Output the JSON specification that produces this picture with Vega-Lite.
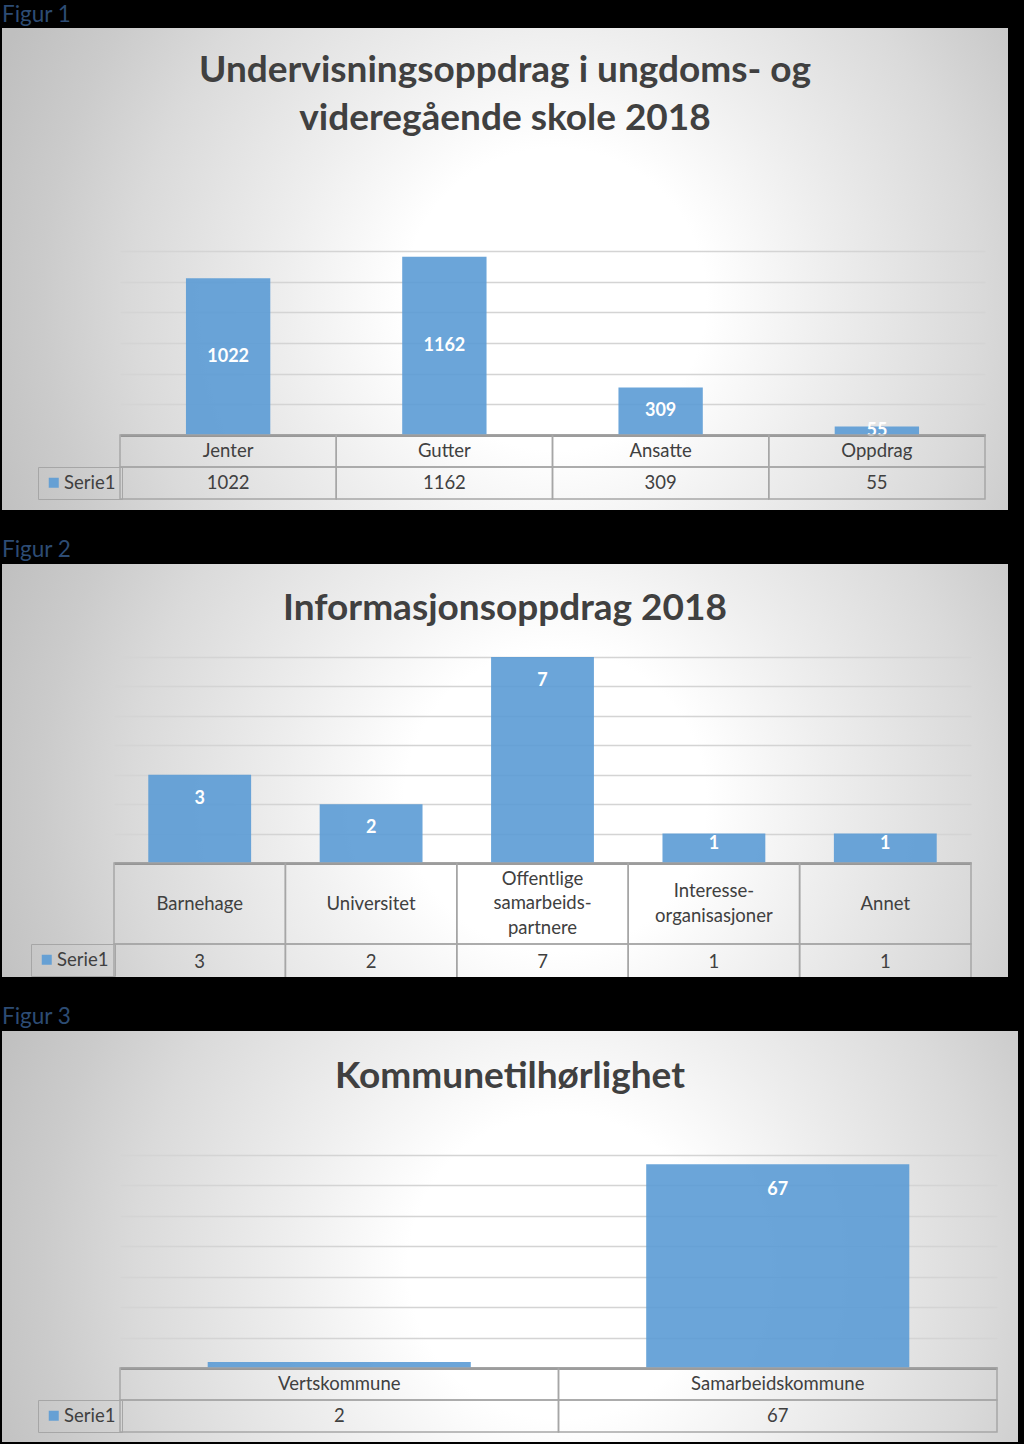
{
  "$schema": "https://vega.github.io/schema/vega-lite/v6.json",
  "background": "#000000",
  "padding": {"left": 2, "right": 6, "top": 3, "bottom": 2},
  "spacing": 28,
  "config": {"font": "Lato", "view": {"stroke": null}},
  "resolve": {"scale": {"color": "independent"}, "legend": {"color": "independent"}},
  "datasets": {
    "fig1": [
      {"kategori": "Jenter", "verdi": 1022, "serie": "Serie1"},
      {"kategori": "Gutter", "verdi": 1162, "serie": "Serie1"},
      {"kategori": "Ansatte", "verdi": 309, "serie": "Serie1"},
      {"kategori": "Oppdrag", "verdi": 55, "serie": "Serie1"}
    ],
    "fig2": [
      {"kategori": "Barnehage", "verdi": 3, "serie": "Serie1"},
      {"kategori": "Universitet", "verdi": 2, "serie": "Serie1"},
      {"kategori": "Offentlige samarbeids-partnere", "verdi": 7, "serie": "Serie1"},
      {"kategori": "Interesse-organisasjoner", "verdi": 1, "serie": "Serie1"},
      {"kategori": "Annet", "verdi": 1, "serie": "Serie1"}
    ],
    "fig3": [
      {"kategori": "Vertskommune", "verdi": 2, "serie": "Serie1"},
      {"kategori": "Samarbeidskommune", "verdi": 67, "serie": "Serie1"}
    ]
  },
  "vconcat": [
    {
      "title": {"text": "Figur 1", "anchor": "start", "frame": "group", "font": "Lato", "fontSize": 22.5, "fontWeight": "normal", "color": "#2d4c74", "offset": 2},
      "vconcat": [
        {
          "width": 1006,
          "height": 482,
          "data": {"name": "fig1"},
          "view": {"stroke": null, "fill": {"gradient": "radial", "x1": 0.55, "y1": 0.53, "r1": 0, "x2": 0.55, "y2": 0.53, "r2": 0.6, "stops": [{"offset": 0, "color": "#ffffff"}, {"offset": 0.25, "color": "#ffffff"}, {"offset": 0.45, "color": "#eeeeee"}, {"offset": 0.7, "color": "#dadada"}, {"offset": 0.85, "color": "#cbcbcb"}, {"offset": 1, "color": "#bfbfbf"}]}},
          "title": {"text": ["Undervisningsoppdrag i ungdoms- og", "videregående skole 2018"], "font": "Lato", "fontSize": 37, "fontWeight": "bold", "color": "#404040", "lineHeight": 48, "offset": -110, "anchor": "middle", "frame": "group"},
          "encoding": {
            "x": {"field": "kategori", "type": "nominal", "sort": null, "scale": {"range": [118, 983], "paddingInner": 0, "paddingOuter": 0}, "axis": {"orient": "bottom", "offset": -75, "labels": false, "ticks": false, "title": null, "domainColor": "#7f7f7f", "domainWidth": 2.5}}
          },
          "resolve": {"scale": {"y": "independent"}, "axis": {"y": "independent"}},
          "layer": [
            {
              "encoding": {"y": {"field": "verdi", "type": "quantitative", "scale": {"domain": [0, 1200], "range": [407, 223], "nice": false, "zero": true}, "axis": {"values": [0, 200, 400, 600, 800, 1000, 1200], "grid": true, "gridColor": "#d4d4d4", "gridWidth": 1.5, "labels": false, "ticks": false, "domain": false, "title": null}}},
              "layer": [
                {"mark": {"type": "bar", "width": {"band": 0.39}, "opacity": 0.9}, "encoding": {"color": {"field": "serie", "type": "nominal", "scale": {"range": ["#5B9BD5"]}, "legend": {"orient": "none", "legendX": 36, "legendY": 439, "title": null, "symbolType": "square", "symbolSize": 100, "symbolStrokeWidth": 0, "labelFont": "Lato", "labelFontSize": 18.5, "labelColor": "#404040", "strokeColor": "#a6a6a6", "padding": 6.5, "labelOffset": 1}}}},
                {"mark": {"type": "text", "font": "Lato", "fontWeight": "bold", "fontSize": 18, "color": "#ffffff", "baseline": "middle"}, "encoding": {"y": {"field": "verdi", "type": "quantitative", "stack": "zero", "bandPosition": 0.5}, "text": {"field": "verdi", "type": "quantitative", "format": "d"}}}
              ]
            },
            {
              "encoding": {"y": {"datum": "Kategori", "type": "nominal", "scale": {"domain": ["Kategori"], "range": [407, 439], "paddingInner": 0, "paddingOuter": 0}, "axis": null}},
              "layer": [
                {"mark": {"type": "rect", "filled": false, "color": "#a6a6a6", "strokeWidth": 1.5}},
                {"mark": {"type": "text", "font": "Lato", "fontSize": 18.5, "color": "#404040"}, "encoding": {"text": {"field": "kategori", "type": "nominal"}}}
              ]
            },
            {
              "encoding": {"y": {"datum": "Serie1", "type": "nominal", "scale": {"domain": ["Serie1"], "range": [439, 471], "paddingInner": 0, "paddingOuter": 0}, "axis": null}},
              "layer": [
                {"mark": {"type": "rect", "filled": false, "color": "#a6a6a6", "strokeWidth": 1.5}},
                {"mark": {"type": "text", "font": "Lato", "fontSize": 18.5, "color": "#404040"}, "encoding": {"text": {"field": "verdi", "type": "quantitative", "format": "d"}}}
              ]
            }
          ]
        }
      ]
    },
    {
      "title": {"text": "Figur 2", "anchor": "start", "frame": "group", "font": "Lato", "fontSize": 22.5, "fontWeight": "normal", "color": "#2d4c74", "offset": 3},
      "vconcat": [
        {
          "width": 1006,
          "height": 413,
          "data": {"name": "fig2"},
          "view": {"stroke": null, "fill": {"gradient": "radial", "x1": 0.55, "y1": 0.53, "r1": 0, "x2": 0.55, "y2": 0.53, "r2": 0.6, "stops": [{"offset": 0, "color": "#ffffff"}, {"offset": 0.25, "color": "#ffffff"}, {"offset": 0.45, "color": "#eeeeee"}, {"offset": 0.7, "color": "#dadada"}, {"offset": 0.85, "color": "#cbcbcb"}, {"offset": 1, "color": "#bfbfbf"}]}},
          "title": {"text": "Informasjonsoppdrag 2018", "font": "Lato", "fontSize": 37, "fontWeight": "bold", "color": "#404040", "offset": -64, "anchor": "middle", "frame": "group"},
          "encoding": {
            "x": {"field": "kategori", "type": "nominal", "sort": null, "scale": {"range": [112, 969], "paddingInner": 0, "paddingOuter": 0}, "axis": {"orient": "bottom", "offset": -114, "labels": false, "ticks": false, "title": null, "domainColor": "#7f7f7f", "domainWidth": 2.5}}
          },
          "resolve": {"scale": {"y": "independent"}, "axis": {"y": "independent"}},
          "layer": [
            {
              "encoding": {"y": {"field": "verdi", "type": "quantitative", "scale": {"domain": [0, 7], "range": [299, 93], "nice": false, "zero": true}, "axis": {"values": [0, 1, 2, 3, 4, 5, 6, 7], "grid": true, "gridColor": "#d4d4d4", "gridWidth": 1.5, "labels": false, "ticks": false, "domain": false, "title": null}}},
              "layer": [
                {"mark": {"type": "bar", "width": {"band": 0.6}, "opacity": 0.9}, "encoding": {"color": {"field": "serie", "type": "nominal", "scale": {"range": ["#5B9BD5"]}, "legend": {"orient": "none", "legendX": 29, "legendY": 380, "title": null, "symbolType": "square", "symbolSize": 100, "symbolStrokeWidth": 0, "labelFont": "Lato", "labelFontSize": 18.5, "labelColor": "#404040", "strokeColor": "#a6a6a6", "padding": 6.5, "labelOffset": 1}}}},
                {"transform": [{"filter": "datum.verdi >= 2"}], "mark": {"type": "text", "font": "Lato", "fontWeight": "bold", "fontSize": 18, "color": "#ffffff", "baseline": "top", "dy": 15}, "encoding": {"text": {"field": "verdi", "type": "quantitative", "format": "d"}}},
                {"transform": [{"filter": "datum.verdi < 2"}], "mark": {"type": "text", "font": "Lato", "fontWeight": "bold", "fontSize": 18, "color": "#ffffff", "baseline": "top", "dy": 1}, "encoding": {"text": {"field": "verdi", "type": "quantitative", "format": "d"}}}
              ]
            },
            {
              "encoding": {"y": {"datum": "Kategori", "type": "nominal", "scale": {"domain": ["Kategori"], "range": [299, 380], "paddingInner": 0, "paddingOuter": 0}, "axis": null}},
              "layer": [
                {"mark": {"type": "rect", "filled": false, "color": "#a6a6a6", "strokeWidth": 1.5}},
                {"transform": [{"filter": "!test(/[- ]/, datum.kategori)"}], "mark": {"type": "text", "font": "Lato", "fontSize": 18.5, "color": "#404040"}, "encoding": {"text": {"field": "kategori", "type": "nominal"}}},
                {"transform": [{"filter": "test(/-/, datum.kategori) && !test(/ /, datum.kategori)"}], "mark": {"type": "text", "font": "Lato", "fontSize": 18.5, "color": "#404040", "lineHeight": 24.5, "dy": -12.5, "lineBreak": {"expr": "regexp('(?<=-)| ')"}}, "encoding": {"text": {"field": "kategori", "type": "nominal"}}},
                {"transform": [{"filter": "test(/ /, datum.kategori)"}], "mark": {"type": "text", "font": "Lato", "fontSize": 18.5, "color": "#404040", "lineHeight": 24.5, "dy": -25, "lineBreak": {"expr": "regexp('(?<=-)| ')"}}, "encoding": {"text": {"field": "kategori", "type": "nominal"}}}
              ]
            },
            {
              "encoding": {"y": {"datum": "Serie1", "type": "nominal", "scale": {"domain": ["Serie1"], "range": [380, 418], "paddingInner": 0, "paddingOuter": 0}, "axis": null}},
              "layer": [
                {"mark": {"type": "rect", "filled": false, "color": "#a6a6a6", "strokeWidth": 1.5, "clip": true}},
                {"mark": {"type": "text", "font": "Lato", "fontSize": 18.5, "color": "#404040", "dy": -1}, "encoding": {"text": {"field": "verdi", "type": "quantitative", "format": "d"}}}
              ]
            }
          ]
        }
      ]
    },
    {
      "title": {"text": "Figur 3", "anchor": "start", "frame": "group", "font": "Lato", "fontSize": 22.5, "fontWeight": "normal", "color": "#2d4c74", "offset": 3},
      "vconcat": [
        {
          "width": 1016,
          "height": 411,
          "data": {"name": "fig3"},
          "view": {"stroke": null, "fill": {"gradient": "radial", "x1": 0.55, "y1": 0.53, "r1": 0, "x2": 0.55, "y2": 0.53, "r2": 0.6, "stops": [{"offset": 0, "color": "#ffffff"}, {"offset": 0.25, "color": "#ffffff"}, {"offset": 0.45, "color": "#eeeeee"}, {"offset": 0.7, "color": "#dadada"}, {"offset": 0.85, "color": "#cbcbcb"}, {"offset": 1, "color": "#bfbfbf"}]}},
          "title": {"text": "Kommunetilhørlighet", "font": "Lato", "fontSize": 37, "fontWeight": "bold", "color": "#404040", "offset": -65, "anchor": "middle", "frame": "group"},
          "encoding": {
            "x": {"field": "kategori", "type": "nominal", "sort": null, "scale": {"range": [118, 995], "paddingInner": 0, "paddingOuter": 0}, "axis": {"orient": "bottom", "offset": -74, "labels": false, "ticks": false, "title": null, "domainColor": "#7f7f7f", "domainWidth": 2.5}}
          },
          "resolve": {"scale": {"y": "independent"}, "axis": {"y": "independent"}},
          "layer": [
            {
              "encoding": {"y": {"field": "verdi", "type": "quantitative", "scale": {"domain": [0, 70], "range": [337, 124], "nice": false, "zero": true}, "axis": {"values": [0, 10, 20, 30, 40, 50, 60, 70], "grid": true, "gridColor": "#d4d4d4", "gridWidth": 1.5, "labels": false, "ticks": false, "domain": false, "title": null}}},
              "layer": [
                {"mark": {"type": "bar", "width": {"band": 0.6}, "opacity": 0.9}, "encoding": {"color": {"field": "serie", "type": "nominal", "scale": {"range": ["#5B9BD5"]}, "legend": {"orient": "none", "legendX": 36, "legendY": 369, "title": null, "symbolType": "square", "symbolSize": 100, "symbolStrokeWidth": 0, "labelFont": "Lato", "labelFontSize": 18.5, "labelColor": "#404040", "strokeColor": "#a6a6a6", "padding": 6.5, "labelOffset": 1}}}},
                {"transform": [{"filter": "datum.verdi > 5"}], "mark": {"type": "text", "font": "Lato", "fontWeight": "bold", "fontSize": 18, "color": "#ffffff", "baseline": "top", "dy": 17}, "encoding": {"text": {"field": "verdi", "type": "quantitative", "format": "d"}}}
              ]
            },
            {
              "encoding": {"y": {"datum": "Kategori", "type": "nominal", "scale": {"domain": ["Kategori"], "range": [337, 369], "paddingInner": 0, "paddingOuter": 0}, "axis": null}},
              "layer": [
                {"mark": {"type": "rect", "filled": false, "color": "#a6a6a6", "strokeWidth": 1.5}},
                {"mark": {"type": "text", "font": "Lato", "fontSize": 18.5, "color": "#404040"}, "encoding": {"text": {"field": "kategori", "type": "nominal"}}}
              ]
            },
            {
              "encoding": {"y": {"datum": "Serie1", "type": "nominal", "scale": {"domain": ["Serie1"], "range": [369, 401], "paddingInner": 0, "paddingOuter": 0}, "axis": null}},
              "layer": [
                {"mark": {"type": "rect", "filled": false, "color": "#a6a6a6", "strokeWidth": 1.5}},
                {"mark": {"type": "text", "font": "Lato", "fontSize": 18.5, "color": "#404040"}, "encoding": {"text": {"field": "verdi", "type": "quantitative", "format": "d"}}}
              ]
            }
          ]
        }
      ]
    }
  ]
}
